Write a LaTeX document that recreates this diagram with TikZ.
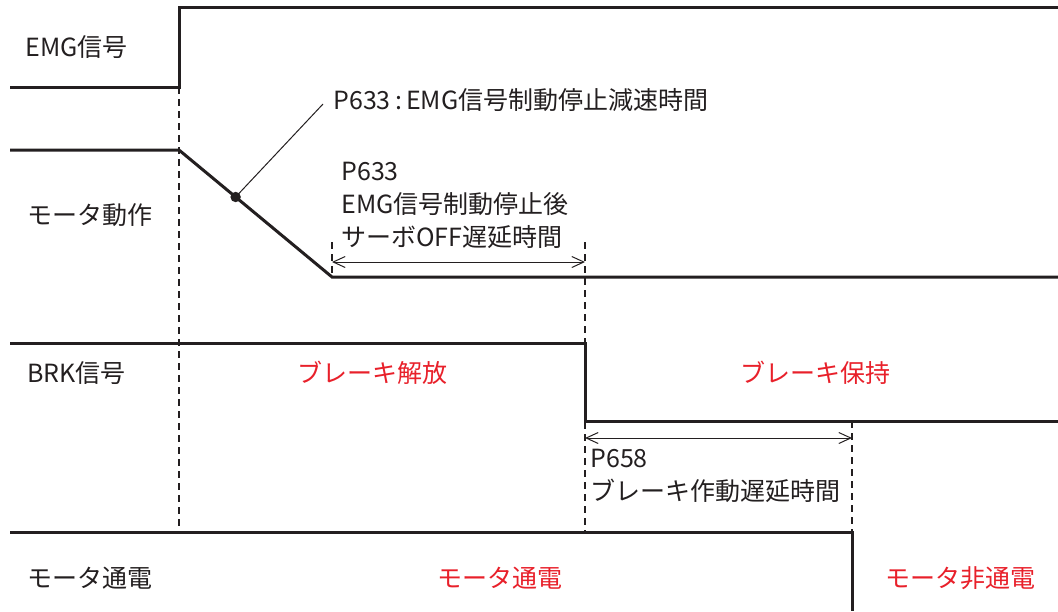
\documentclass[tikz,border=0pt]{standalone}
\usepackage{fontspec}
\setmainfont{Noto Sans CJK JP}
\usetikzlibrary{positioning,arrows.meta,calc}
\definecolor{statered}{HTML}{E8202A}
\definecolor{wavegray}{HTML}{231F20}

\begin{document}
\begin{tikzpicture}[
  x=0.5pt, y=-0.5pt,
  font=\fontsize{12.5}{16.5}\selectfont,
  wave/.style={draw=wavegray, line width=1.5pt, line join=miter},
  guide/.style={draw=wavegray, line width=0.6pt, dash pattern=on 3.5pt off 2.5pt},
  dim/.style={{Straight Barb[length=6pt,width=5.5pt]}-{Straight Barb[length=6pt,width=5.5pt]}, line width=0.5pt, draw=wavegray},
  lab/.style={anchor=west, inner sep=0pt, text=wavegray},
  state/.style={inner sep=0pt, text=statered},
]
  \useasboundingbox (0,0) rectangle (1058,611);
  % signal names
  \node[lab] (emg) at (25,47)  {EMG信号};
  \node[lab] (mot) at (27,215) {モータ動作};
  \node[lab] (brk) at (27,373) {BRK信号};
  \node[lab] (pwr) at (27,578) {モータ通電};
  % waveforms
  \coordinate (emgup) at (179,87);
  \coordinate (decstart) at (179,150);
  \coordinate (decend) at (332,277);
  \coordinate (brkdown) at (585,343);
  \coordinate (brklow) at (585,421);
  \coordinate (pwroff) at (852,532);
  \draw[wave] (10,87) -- (emgup) -- (179,7) -- (1058,7);
  \draw[wave] (10,150) -- (decstart) -- (decend) -- (1058,277);
  \draw[wave] (10,343) -- (brkdown) -- (brklow) -- (1058,421);
  \draw[wave] (10,532) -- (pwroff) -- (852,611);
  % timing guides
  \draw[guide] (emgup) -- (179,532);
  \draw[guide] (332,242) -- (decend);
  \draw[guide] (585,242) -- (585,532);
  \draw[guide] (brklow -| pwroff) -- (pwroff);
  % deceleration leader
  \coordinate (dot) at ($(decstart)!0.37!(decend)$);
  \node[lab] (decel) at (333,100) {P633\,:\,EMG信号制動停止減速時間};
  \coordinate (leadend) at (323,104);
  \draw[draw=wavegray, line width=0.5pt] (dot) -- (leadend);
  \fill[wavegray] (dot) circle (2.6pt);
  % servo off delay
  \coordinate (sv1) at (332,262);
  \coordinate (sv2) at (585,262);
  \draw[dim] (sv1) -- (sv2);
  \node[lab, anchor=north west, align=left] (servo) at (341,162)
    {P633\\EMG信号制動停止後\\サーボOFF遅延時間};
  % brake delay
  \coordinate (bk1) at (585,438);
  \coordinate (bk2) at (852,438);
  \draw[dim] (bk1) -- (bk2);
  \node[lab, anchor=north west, align=left] (brkdelay) at (590,449)
    {P658\\ブレーキ作動遅延時間};
  % states
  \node[state] (release) at (372,373) {ブレーキ解放};
  \node[state] (hold)    at (815,373) {ブレーキ保持};
  \node[state] (on)      at (500,578) {モータ通電};
  \node[state] (off)     at (960,578) {モータ非通電};
\end{tikzpicture}
\end{document}
